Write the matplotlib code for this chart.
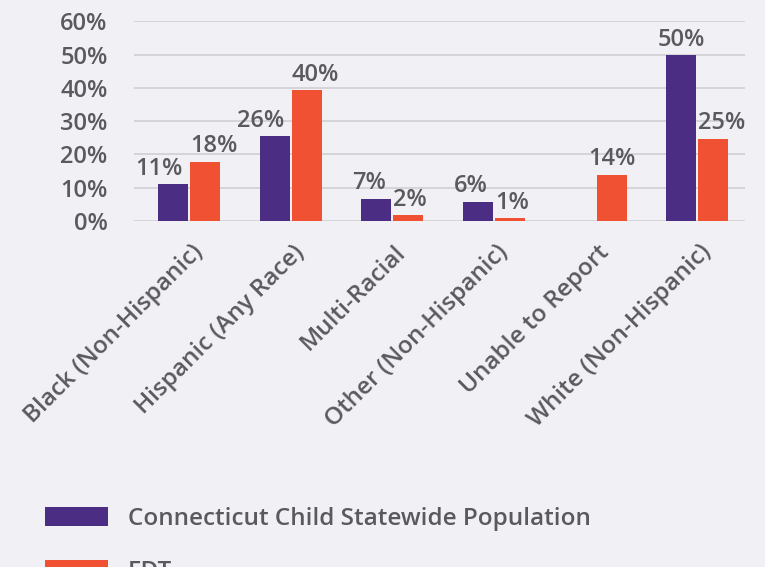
import numpy as np
import matplotlib.pyplot as plt

categories = ["Black (Non-Hispanic)", "Hispanic (Any Race)", "Multi-Racial",
              "Other (Non-Hispanic)", "Unable to Report", "White (Non-Hispanic)"]
ct_pop = [11.1, 25.4, 6.7, 5.8, 0.0, 49.8]
edt = [17.8, 39.4, 1.8, 0.9, 13.9, 24.7]
ct_labels = ["11%", "26%", "7%", "6%", "", "50%"]
edt_labels = ["18%", "40%", "2%", "1%", "14%", "25%"]
yticks = [0, 10, 20, 30, 40, 50, 60]

bg = "#f0f0f5"
purple = "#4b2e83"
orange = "#f15133"
txt = "#5a5a5e"

plt.rcParams["font.family"] = ["Open Sans", "DejaVu Sans"]
fw = "semibold"

fig = plt.figure(figsize=(7.65, 5.67), dpi=100, facecolor=bg)
ax = fig.add_axes([134 / 765, 1 - 221 / 567, 611 / 765, 199.7 / 567])
ax.set_facecolor(bg)

x = np.arange(len(categories))
w = 0.295
xp = x - w / 2 - 0.01
xo = x + w / 2 + 0.01
ax.bar(xp, ct_pop, w, color=purple, zorder=3,
       label="Connecticut Child Statewide Population")
ax.bar(xo, edt, w, color=orange, zorder=3, label="EDT")

# labels pushed apart when the pair sits close together
for i in range(len(categories)):
    if ct_labels[i]:
        if abs(ct_pop[i] - edt[i]) < 20:
            ax.text(xp[i] + w / 2 - 0.05, ct_pop[i] + 1.0, ct_labels[i], ha="right",
                    va="bottom", fontsize=17, color=txt, fontweight=fw)
        else:
            ax.text(xp[i], ct_pop[i] + 1.0, ct_labels[i], ha="center",
                    va="bottom", fontsize=17, color=txt, fontweight=fw)
        ax.text(xo[i] - w / 2, edt[i] + 1.0, edt_labels[i], ha="left",
                va="bottom", fontsize=17, color=txt, fontweight=fw)
    else:
        ax.text(xo[i], edt[i] + 1.0, edt_labels[i], ha="center",
                va="bottom", fontsize=17, color=txt, fontweight=fw)

ax.set_xlim(-0.54, 5.47)
ax.set_ylim(0, 60)
ax.set_yticks(yticks)
ax.set_yticklabels([f"{v}%" for v in yticks], fontsize=17, color=txt, fontweight=fw)
ax.grid(axis="y", color="#cfcfd4", linewidth=1.2, zorder=0)
ax.tick_params(length=0)
ax.tick_params(axis="y", pad=19)
for s in ax.spines.values():
    s.set_visible(False)

ax.set_xticks(x + 0.1)
ax.set_xticklabels(categories, rotation=45, ha="right", va="center",
                   rotation_mode="anchor", fontsize=17.5, color=txt, fontweight=fw)
ax.tick_params(axis="x", pad=20)

fig.legend(loc="upper left", bbox_to_anchor=(45 / 765, 1 - 507 / 567), frameon=False,
           labelcolor=txt, handlelength=2.6, handleheight=0.85,
           labelspacing=1.2, handletextpad=0.8, borderpad=0, borderaxespad=0,
           prop={"size": 17.5, "weight": fw})

fig.savefig("out.png", dpi=100, facecolor=bg)
